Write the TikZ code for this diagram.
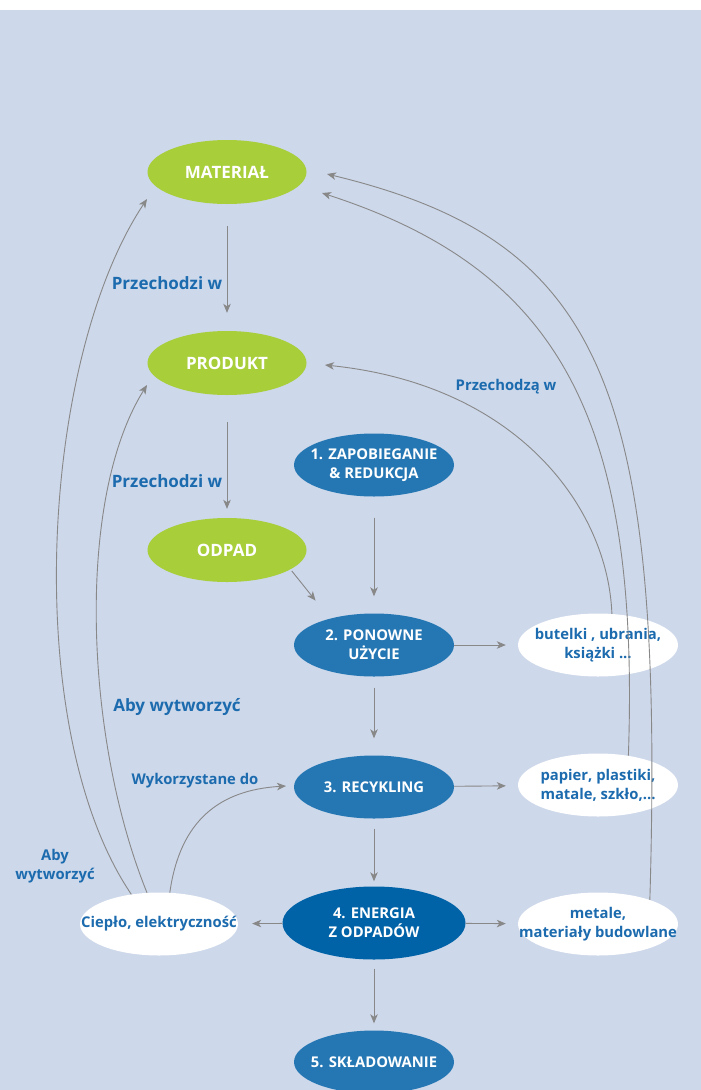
\documentclass[tikz,border=0pt]{standalone}
\usepackage{fontspec}
\setmainfont{Open Sans}
\usetikzlibrary{shapes.geometric,arrows.meta,calc}
\definecolor{bg}{HTML}{CDD8EA}
\definecolor{grn}{HTML}{A8CE3A}
\definecolor{blu}{HTML}{2577B4}
\definecolor{dblu}{HTML}{0062A7}
\definecolor{tblu}{HTML}{1C6BAE}
\definecolor{arrg}{HTML}{888888}
\begin{document}
\begin{tikzpicture}[x=1pt,y=-1pt,
  shp/.style={ellipse, inner sep=0pt, draw=none},
  gnode/.style={shp, fill=grn, minimum width=159pt, minimum height=64pt},
  bnode/.style={shp, fill=blu, minimum width=160pt, minimum height=63pt},
  dnode/.style={shp, fill=dblu, minimum width=183pt, minimum height=73pt},
  wnode/.style={shp, fill=white, minimum width=160pt, minimum height=63pt},
  smallfont/.style={font=\bfseries\fontsize{14.8}{18.8}\selectfont},
  bigfont/.style={font=\bfseries\fontsize{17}{20}\selectfont},
  gtxt/.style={bigfont, text=white, inner sep=0pt, align=center},
  btxt/.style={smallfont, text=white, inner sep=0pt, align=center},
  wtxt/.style={smallfont, text=tblu, inner sep=0pt, align=center},
  lbl/.style={smallfont, text=tblu, inner sep=0pt, align=center},
  biglbl/.style={bigfont, text=tblu, inner sep=0pt, align=center},
  arr/.style={draw=arrg, line width=0.9pt, -{Stealth[length=9pt,width=7.5pt,inset=2.5pt]}},
]
\useasboundingbox (0,0) rectangle (701,1090);
\fill[white] (0,0) rectangle (701,10);
\fill[bg] (0,10) rectangle (701,1090);

% green nodes
\node[gnode] (mat) at (227,172) {};
\node[gtxt] (matt) at (mat) {MATERIAŁ};
\node[gnode] (prod) at (227,363) {};
\node[gtxt] (prodt) at (prod) {PRODUKT};
\node[gnode] (odp) at (227,550) {};
\node[gtxt] (odpt) at (odp) {ODPAD};

% blue nodes
\node[bnode] (z1) at (374,465) {};
\node[btxt] (z1t) at (z1) {1. ZAPOBIEGANIE\\\& REDUKCJA};
\node[bnode] (z2) at (374,645) {};
\node[btxt] (z2t) at (z2) {2. PONOWNE\\UŻYCIE};
\node[bnode] (z3) at (374,787) {};
\node[btxt] (z3t) at (z3) {3. RECYKLING};
\node[dnode] (z4) at (374,923) {};
\node[btxt] (z4t) at (z4) {4. ENERGIA\\Z ODPADÓW};
\node[bnode] (z5) at (374,1062) {};
\node[btxt] (z5t) at (z5) {5. SKŁADOWANIE};

% white nodes
\node[wnode] (but) at (598,645) {};
\node[wtxt] (butt) at (but) {butelki , ubrania,\\książki ...};
\node[wnode] (pap) at (598,785) {};
\node[wtxt] (papt) at (pap) {papier, plastiki,\\matale, szkło,...};
\node[wnode] (met) at (598,924) {};
\node[wtxt] (mett) at (met) {metale,\\materiały budowlane};
\node[wnode, minimum width=158pt] (cie) at (159,924) {};
\node[wtxt] (ciet) at (cie) {Ciepło, elektryczność};

% labels
\node[biglbl, anchor=base] (l1) at (167,289) {Przechodzi w};
\node[biglbl, anchor=base] (l2) at (167,487) {Przechodzi w};
\node[lbl, anchor=base] (l3) at (506,390) {Przechodzą w};
\node[biglbl, anchor=base] (l4) at (177,711) {Aby wytworzyć};
\node[lbl, anchor=base] (l5) at (195,784) {Wykorzystane do};
\node[lbl] (l6) at (55,866) {Aby\\wytworzyć};

% straight connectors
\draw[arr, shorten <=22pt, shorten >=18pt] (mat) -- (prod);
\draw[arr, shorten <=27pt, shorten >=9pt] (prod) -- (odp);
\draw[arr, shorten <=21pt, shorten >=17pt] (z1) -- (z2);
\draw[arr, shorten <=11pt, shorten >=17pt] (z2) -- (z3);
\draw[arr, shorten <=10pt, shorten >=5pt] (z3) -- (z4);
\draw[arr, shorten <=9pt, shorten >=7pt] (z4) -- (z5);
\draw[arr, shorten >=12pt] (z2) -- (but);
\draw[arr, shorten >=12pt] (z3) -- (pap);
\draw[arr, shorten >=12pt] (z4) -- (met);
\draw[arr, shorten >=14pt] (z4) -- (cie);
\draw[arr, shorten <=2pt, shorten >=23pt] (odp.-17) -- (z2.149);

% free ends of curved connectors
\coordinate (tmA) at (327,174);
\coordinate (tmB) at (322,193);
\coordinate (tpA) at (325,365);
\coordinate (tmC) at (147,199);
\coordinate (tpB) at (147,385);
\coordinate (tr) at (286,786);

% curved connectors
\draw[arr] (met.25) .. controls (665,380) and (600,240) .. (tmA);
\draw[arr] (pap.44) .. controls (640,420) and (560,270) .. (tmB);
\draw[arr] (but.66) .. controls (608,510) and (520,385) .. (tpA);
\draw[arr] (cie.133) .. controls (20,730) and (40,360) .. (tmC);
\draw[arr] (cie.111) .. controls (85,740) and (75,500) .. (tpB);
\draw[arr] (cie.71) .. controls (180,820) and (220,790) .. (tr);
\end{tikzpicture}
\end{document}
